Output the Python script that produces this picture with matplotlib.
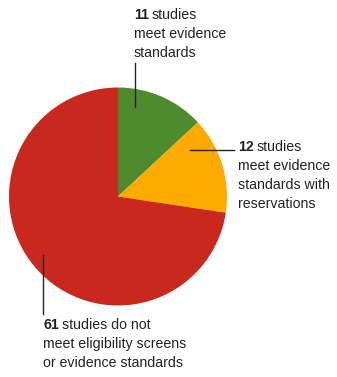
import matplotlib
matplotlib.use('Agg')
import matplotlib.pyplot as plt

plt.rcParams['font.family'] = ['Liberation Sans', 'DejaVu Sans']

counts = [11, 12, 61]
colors = ['#4e8a2e', '#ffaa00', '#c8281e']
first_lines = ['studies', 'studies', 'studies do not']
rest_lines = ['meet evidence\nstandards',
              'meet evidence\nstandards with\nreservations',
              'meet eligibility screens\nor evidence standards']

W, H = 337, 377
fig = plt.figure(figsize=(W / 100, H / 100), dpi=100)
ax = fig.add_axes([0, 0, 1, 1])
ax.set_xlim(0, W)
ax.set_ylim(0, H)
ax.set_aspect('equal')
ax.axis('off')

cx, cy, r = 118, H - 196.5, 109
ax.pie(counts, colors=colors, startangle=90, counterclock=False,
       center=(cx, cy), radius=r, wedgeprops=dict(linewidth=0))
ax.set_xlim(0, W)
ax.set_ylim(0, H)

txt_color = '#222222'
fs = 10.2
lead = 19

# label anchor positions (top-left of first line, pixels from top)
label_pos = [(134, 8), (238, 140), (43, 318)]
leaders = [((135, 63), (135, 107)), ((190, 150), (234, 150)), ((43, 255), (43, 314))]

fig.canvas.draw()
renderer = fig.canvas.get_renderer()
for i in range(3):
    x, ytop = label_pos[i]
    b = ax.text(x, H - ytop, str(counts[i]), fontsize=fs, fontweight='bold',
                color=txt_color, va='top', ha='left')
    ext = b.get_window_extent(renderer)
    wdata = ext.width * (W / fig.bbox.width)
    ax.text(x + wdata + 3, H - ytop, first_lines[i], fontsize=fs,
            color=txt_color, va='top', ha='left')
    for j, line in enumerate(rest_lines[i].split('\n')):
        ax.text(x, H - ytop - lead * (j + 1), line, fontsize=fs,
                color=txt_color, va='top', ha='left')
    (x0, y0), (x1, y1) = leaders[i]
    ax.plot([x0, x1], [H - y0, H - y1], color='#222222', lw=1)

fig.savefig('out.png', dpi=100)
